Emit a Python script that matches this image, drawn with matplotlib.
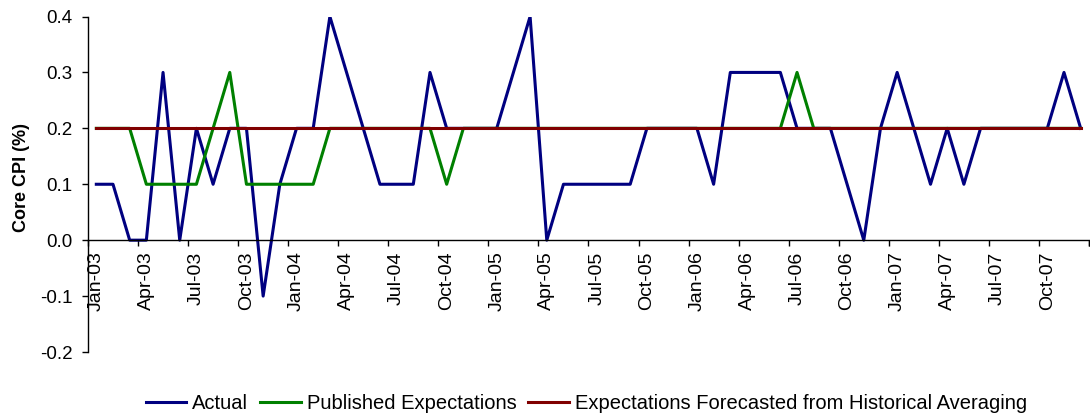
import matplotlib
matplotlib.use("Agg")
import matplotlib.pyplot as plt
import numpy as np

plt.rcParams['font.family'] = ['Liberation Sans', 'DejaVu Sans']

# monthly core CPI, Jan-03 .. Dec-07
months = [m + '-' + y for y in ['03', '04', '05', '06', '07']
          for m in ['Jan', 'Feb', 'Mar', 'Apr', 'May', 'Jun',
                    'Jul', 'Aug', 'Sep', 'Oct', 'Nov', 'Dec']]

actual = [0.1, 0.1, 0.0, 0.0, 0.3, 0.0, 0.2, 0.1, 0.2, 0.2,
          -0.1, 0.1, 0.2, 0.2, 0.4, 0.3, 0.2, 0.1, 0.1, 0.1,
          0.3, 0.2, 0.2, 0.2, 0.2, 0.3, 0.4, 0.0, 0.1, 0.1,
          0.1, 0.1, 0.1, 0.2, 0.2, 0.2, 0.2, 0.1, 0.3, 0.3,
          0.3, 0.3, 0.2, 0.2, 0.2, 0.1, 0.0, 0.2, 0.3, 0.2,
          0.1, 0.2, 0.1, 0.2, 0.2, 0.2, 0.2, 0.2, 0.3, 0.2]

published = [0.2, 0.2, 0.2, 0.1, 0.1, 0.1, 0.1, 0.2, 0.3, 0.1,
             0.1, 0.1, 0.1, 0.1, 0.2, 0.2, 0.2, 0.2, 0.2, 0.2,
             0.2, 0.1, 0.2, 0.2, 0.2, 0.2, 0.2, 0.2, 0.2, 0.2,
             0.2, 0.2, 0.2, 0.2, 0.2, 0.2, 0.2, 0.2, 0.2, 0.2,
             0.2, 0.2, 0.3, 0.2, 0.2, 0.2, 0.2, 0.2, 0.2, 0.2,
             0.2, 0.2, 0.2, 0.2, 0.2, 0.2, 0.2, 0.2, 0.2, 0.2]

historical = [0.2] * 60

x = np.arange(len(months))

fig = plt.figure(figsize=(10.9, 4.19), dpi=100)
ax = fig.add_axes([0.0807, 0.1599, 0.9184, 0.8007])

ax.plot(x, actual, color='#000080', lw=2.2, label='Actual')
ax.plot(x, published, color='#008000', lw=2.2, label='Published Expectations')
ax.plot(x, historical, color='#800000', lw=2.2,
        label='Expectations Forecasted from Historical Averaging')

ax.set_xlim(-0.5, len(months) - 0.5)
ax.set_ylim(-0.2, 0.4)
ax.set_yticks([-0.2, -0.1, 0.0, 0.1, 0.2, 0.3, 0.4])
ax.set_yticklabels(['%.1f' % v for v in [-0.2, -0.1, 0.0, 0.1, 0.2, 0.3, 0.4]])

# tick marks between categories, labels at every 3rd month
ax.set_xticks(np.arange(-0.5, len(months), 3).tolist() + [len(months) - 0.5])
ax.set_xticklabels([])
ax.set_xticks(x[::3], minor=True)
ax.set_xticklabels(months[::3], minor=True)
ax.tick_params(axis='x', which='major', direction='out', length=4, width=1)
ax.tick_params(axis='x', which='minor', length=0, pad=8, labelsize=14,
               labelrotation=90)
ax.tick_params(axis='y', direction='out', length=4, width=1, pad=7, labelsize=13.5)

ax.spines['top'].set_visible(False)
ax.spines['right'].set_visible(False)
ax.spines['bottom'].set_position(('data', 0))
ax.spines['left'].set_linewidth(1)
ax.spines['bottom'].set_linewidth(1)

ax.set_ylabel('Core CPI (%)', fontsize=13, fontweight='bold')
ax.yaxis.set_label_coords(-0.058, 0.52)

fig.legend(loc='center', bbox_to_anchor=(0.538, 0.036), ncol=3, frameon=False,
           fontsize=14.5, handlelength=2.0, handletextpad=0.3, columnspacing=0.6)

fig.savefig('out.png', dpi=100)
